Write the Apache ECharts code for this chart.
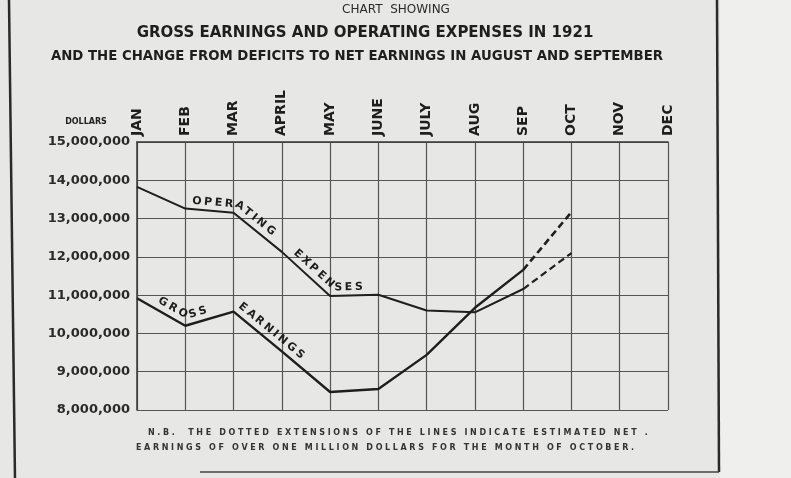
<!DOCTYPE html>
<html>
<head>
<meta charset="utf-8">
<script src="https://cdn.jsdelivr.net/npm/echarts@6/dist/echarts.min.js"></script>
<style>
html,body{margin:0;padding:0;background:#e7e7e5;}
#chart{width:791px;height:478px;}
</style>
</head>
<body>
<div id="chart"></div>
<script>
// ---- data ----
const months = ['JAN','FEB','MAR','APRIL','MAY','JUNE','JULY','AUG','SEP','OCT','NOV','DEC'];
// values in dollars (Jan..Oct); Sep->Oct is the estimated (dotted) extension
const operatingExpenses = [13830000, 13260000, 13150000, 12130000, 10980000, 11010000, 10600000, 10550000, 11160000, 12100000];
const grossEarnings     = [10920000, 10200000, 10570000, 9530000, 8470000, 8550000, 9440000, 10670000, 11660000, 13170000];
const estimatedFromIndex = 8; // SEP
const yTicks = [8000000, 9000000, 10000000, 11000000, 12000000, 13000000, 14000000, 15000000];

const titleLines = [
  'CHART  SHOWING',
  'GROSS EARNINGS AND OPERATING EXPENSES IN 1921',
  'AND THE CHANGE FROM DEFICITS TO NET EARNINGS IN AUGUST AND SEPTEMBER'
];
const noteLines = [
  'N.B.  THE DOTTED EXTENSIONS OF THE LINES INDICATE ESTIMATED NET .',
  'EARNINGS OF OVER ONE MILLION DOLLARS FOR THE MONTH OF OCTOBER.'
];

function solidPart(arr){ return arr.map((v,i)=> i<=estimatedFromIndex ? v : null); }
function dashPart(arr){ return arr.map((v,i)=> i>=estimatedFromIndex ? v : null); }
function spaced(s, sep){ return s.split('').join(sep); }

const ink = '#1e1e1e';
const chart = echarts.init(document.getElementById('chart'), null, {renderer:'canvas'});

const lineBase = {type:'line', symbol:'none', connectNulls:false, silent:true, animation:false};

chart.setOption({
  backgroundColor:'#e7e7e5',
  animation:false,
  grid:{left:137, right:123, top:142, bottom:68, containLabel:false},
  xAxis:{
    type:'category', data:months, boundaryGap:false, position:'top',
    axisLine:{show:true, lineStyle:{color:'#3a3a3a', width:1.5}},
    axisTick:{show:false},
    axisLabel:{rotate:-90, margin:6, color:ink, fontFamily:'DejaVu Sans', fontWeight:'bold', fontSize:14},
    splitLine:{show:true, lineStyle:{color:'#555', width:1.2}}
  },
  yAxis:{
    type:'value', min:yTicks[0], max:yTicks[yTicks.length-1], interval:1000000,
    axisLine:{show:true, lineStyle:{color:'#3a3a3a', width:1.5}},
    axisTick:{show:false},
    axisLabel:{margin:7, color:'#2a2a2a', fontFamily:'DejaVu Sans', fontWeight:'bold', fontSize:13,
      formatter:v=>v.toLocaleString('en-US')},
    splitLine:{show:true, lineStyle:{color:'#555', width:1.2}}
  },
  series:[
    Object.assign({}, lineBase, {name:'Operating Expenses', data:solidPart(operatingExpenses), lineStyle:{color:ink, width:2}}),
    Object.assign({}, lineBase, {name:'Operating Expenses (est.)', data:dashPart(operatingExpenses), lineStyle:{color:ink, width:2.2, type:[7,4]}}),
    Object.assign({}, lineBase, {name:'Gross Earnings', data:solidPart(grossEarnings), lineStyle:{color:ink, width:2.4}}),
    Object.assign({}, lineBase, {name:'Gross Earnings (est.)', data:dashPart(grossEarnings), lineStyle:{color:ink, width:2.6, type:[7,4]}})
  ]
});

// ---- annotations (positions derived from the chart's own scales) ----
const mctx = document.createElement('canvas').getContext('2d');
function measure(ch, font){ mctx.font = font; return mctx.measureText(ch).width; }

function pathPixels(arr, upto){
  const pts = [];
  for(let i=0;i<=upto;i++) pts.push(chart.convertToPixel({seriesIndex:0}, [i, arr[i]]));
  return pts;
}
function lineYAt(pts, x){
  if(x<=pts[0][0]) return pts[0][1];
  for(let i=0;i<pts.length-1;i++){
    if(x>=pts[i][0] && x<=pts[i+1][0]){
      const t=(x-pts[i][0])/(pts[i+1][0]-pts[i][0]);
      return pts[i][1]+t*(pts[i+1][1]-pts[i][1]);
    }
  }
  return pts[pts.length-1][1];
}
// text following an envelope lying just above the line
function textAlong(arr, upto, word, startCat, font, spacing, lift){
  const pts = pathPixels(arr, upto);
  const env = x => { let m = Infinity; for(let d=-5; d<=5; d+=0.5) m = Math.min(m, lineYAt(pts, x+d)); return m - lift; };
  const i0 = Math.floor(startCat), f0 = startCat - i0;
  const x0 = pts[i0][0] + f0*(pts[i0+1][0]-pts[i0][0]);
  const samples = []; let acc = 0, px = x0, py = env(x0);
  for(let x=x0; x<pts[pts.length-1][0]; x+=0.5){
    const y = env(x); acc += Math.hypot(x-px, y-py); samples.push([x, y, acc]); px = x; py = y;
  }
  const at = s => { for(const p of samples){ if(p[2]>=s) return p; } return samples[samples.length-1]; };
  const els = []; let s = 0;
  for(const ch of word){
    const w = measure(ch, font);
    const p = at(s + w/2);
    const ang = Math.atan2(env(p[0]+4) - env(p[0]-4), 8);
    els.push({type:'text', x:p[0], y:p[1], rotation:-ang, silent:true,
      style:{text:ch, font:font, fill:ink, align:'center', verticalAlign:'middle'}});
    s += w + spacing;
  }
  return els;
}

const lblFont = 'bold 11px "DejaVu Sans"';
let graphics = [];
graphics = graphics.concat(textAlong(operatingExpenses, 5, 'OPERATING', 1.14, lblFont, 2.5, 8));
graphics = graphics.concat(textAlong(operatingExpenses, 5, 'EXPENSES', 3.27, lblFont, 2.5, 8));
graphics = graphics.concat(textAlong(grossEarnings, 5, 'GROSS', 0.45, lblFont, 2.5, 8));
graphics = graphics.concat(textAlong(grossEarnings, 5, 'EARNINGS', 2.13, lblFont, 2.5, 8));

// titles
graphics.push({type:'text', x:396, y:10, silent:true, style:{text:titleLines[0], font:'12px "DejaVu Sans"', fill:'#2a2a2a', align:'center', verticalAlign:'middle'}});
graphics.push({type:'text', x:365, y:33, silent:true, style:{text:titleLines[1], font:'bold 15px "DejaVu Sans"', fill:ink, align:'center', verticalAlign:'middle'}});
graphics.push({type:'text', x:357, y:57, silent:true, style:{text:titleLines[2], font:'bold 13.3px "DejaVu Sans"', fill:ink, align:'center', verticalAlign:'middle'}});
// y axis unit
graphics.push({type:'text', x:86, y:122, silent:true, style:{text:'DOLLARS', font:'bold 8px "DejaVu Sans"', fill:ink, align:'center', verticalAlign:'middle'}});
// footnote
graphics.push({type:'text', x:148, y:433, silent:true, style:{text:spaced(noteLines[0],'\u2004'), font:'bold 8px "DejaVu Sans"', fill:'#333', align:'left', verticalAlign:'middle'}});
graphics.push({type:'text', x:136, y:448, silent:true, style:{text:spaced(noteLines[1],'\u2004'), font:'bold 8px "DejaVu Sans"', fill:'#333', align:'left', verticalAlign:'middle'}});
// page frame
graphics.push({type:'line', silent:true, shape:{x1:9, y1:0, x2:15, y2:478}, style:{stroke:'#2a2a2a', lineWidth:2.5}});
graphics.push({type:'line', silent:true, shape:{x1:717, y1:0, x2:719, y2:472}, style:{stroke:'#2a2a2a', lineWidth:2.5}});
graphics.push({type:'line', silent:true, shape:{x1:200, y1:472, x2:719, y2:472}, style:{stroke:'#444', lineWidth:1.5}});
// lighter paper outside the frame
graphics.push({type:'rect', silent:true, z:-1, shape:{x:720, y:0, width:71, height:478}, style:{fill:'#efefed'}});

chart.setOption({graphic:graphics});
</script>
</body>
</html>
